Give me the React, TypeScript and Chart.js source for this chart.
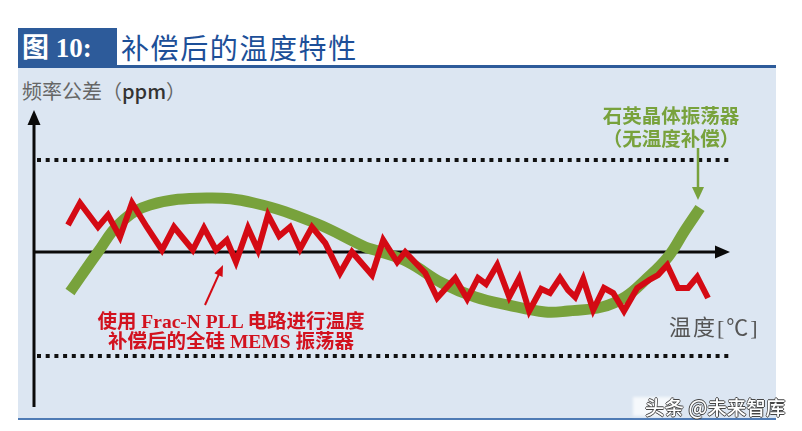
import React, { useEffect, useRef } from "react";
import { Chart, registerables } from "chart.js";

Chart.register(...registerables);

// ---- data (temperature in °C, frequency deviation in ppm) ----
const redTemp = [
  -40.5, -37.5, -33, -30.5, -27.5, -24.5, -20.8, -17, -14, -9.3, -6.5, -3.5, -0.8, 1.5, 4.5, 7, 9.5,
  12.3, 15, 17.5, 20.5, 23.8, 27.5, 30.5, 35.5, 38.3, 41.8, 43.8, 48.8, 51.8, 56.3, 59.3, 62, 64,
  66.8, 69.8, 72.3, 74.8, 77.8, 80, 82.5, 84.5, 86.3, 88.3, 90.8, 93.5, 95.8, 98.5, 101.8, 104.8,
  107, 109.3, 112, 114.5, 116.8, 119.5,
];
const redPpm = [
  13.5, 24.5, 12.5, 18.5, 7.5, 24.5, 12.5, 1, 12.5, 1, 12, 1, 6, -5, 12, 1, 18.5, 8, 12.5, 1.5,
  12.5, 4.5, -10.5, 0, -11.5, 6, -5, 0, -10.5, -23, -13, -23.5, -13, -16, -6.5, -22.5, -13, -29.5,
  -18.5, -20.5, -13, -19, -22.5, -13.5, -29, -18, -20.5, -29.5, -18, -14, -11.5, -6.5, -18, -18,
  -12.5, -23,
];
const greenTemp = [
  -40, -33, -27.5, -20, -5.8, 6, 21.3, 33.8, 37, 44.5, 53, 61.3, 69.5, 78.8, 84.5, 93, 98.8,
  103.8, 109.5, 113.8, 117.5,
];
const greenPpm = [
  -20, 0, 14.5, 23.5, 27, 24.5, 14.5, 2.5, 0.5, -5, -15.5, -22.5, -26.5, -30, -29.5, -27.5,
  -22.5, -14, -2.5, 11, 22,
];
const limitPpm = [46, -52];
const crystalArrow = { temp: [117, 117], ppm: [52, 26] };
const memsArrow = { temp: [-6.25, -1.75], ppm: [-26.5, -6.5] };

const GREEN = "#78a23c";
const RED = "#d40a14";

function arrowHead(ctx: CanvasRenderingContext2D, x0: number, y0: number, x1: number, y1: number, len: number, half: number) {
  const a = Math.atan2(y1 - y0, x1 - x0);
  ctx.beginPath();
  ctx.moveTo(x1, y1);
  ctx.lineTo(x1 - len * Math.cos(a) + half * Math.sin(a), y1 - len * Math.sin(a) - half * Math.cos(a));
  ctx.lineTo(x1 - len * Math.cos(a) - half * Math.sin(a), y1 - len * Math.sin(a) + half * Math.cos(a));
  ctx.closePath();
  ctx.fill();
}

const axesPlugin = {
  id: "axesPlugin",
  beforeDatasetsDraw(chart: any) {
    const { ctx, chartArea, scales } = chart;
    const y = scales.y;
    ctx.save();
    // dotted limit lines
    ctx.strokeStyle = "#111";
    ctx.lineWidth = 4;
    ctx.setLineDash([4, 4.7]);
    ctx.lineCap = "butt";
    limitPpm.forEach((v) => {
      const py = y.getPixelForValue(v);
      ctx.beginPath();
      ctx.moveTo(chartArea.left + 3, py);
      ctx.lineTo(chartArea.right + 3, py);
      ctx.stroke();
    });
    ctx.setLineDash([]);
    // x axis
    const y0 = y.getPixelForValue(0);
    ctx.fillStyle = "#0a0a0a";
    ctx.strokeStyle = "#0a0a0a";
    ctx.lineWidth = 3;
    ctx.beginPath();
    ctx.moveTo(chartArea.left, y0);
    ctx.lineTo(chartArea.right - 10, y0);
    ctx.stroke();
    arrowHead(ctx, chartArea.left, y0, chartArea.right, y0, 15, 6.5);
    // y axis
    ctx.beginPath();
    ctx.moveTo(chartArea.left, chartArea.bottom);
    ctx.lineTo(chartArea.left, chartArea.top + 10);
    ctx.stroke();
    arrowHead(ctx, chartArea.left, chartArea.bottom, chartArea.left, chartArea.top, 15, 6.5);
    ctx.restore();
  },
  afterDatasetsDraw(chart: any) {
    const { ctx, scales } = chart;
    const x = scales.x;
    const y = scales.y;
    ctx.save();
    // crystal arrow
    let ax0 = x.getPixelForValue(crystalArrow.temp[0]);
    let ay0 = y.getPixelForValue(crystalArrow.ppm[0]);
    let ax1 = x.getPixelForValue(crystalArrow.temp[1]);
    let ay1 = y.getPixelForValue(crystalArrow.ppm[1]);
    ctx.strokeStyle = GREEN;
    ctx.fillStyle = GREEN;
    ctx.lineWidth = 2.5;
    ctx.beginPath();
    ctx.moveTo(ax0, ay0);
    ctx.lineTo(ax1, ay1 - 8);
    ctx.stroke();
    arrowHead(ctx, ax0, ay0, ax1, ay1, 13, 6);
    // MEMS arrow
    ax0 = x.getPixelForValue(memsArrow.temp[0]);
    ay0 = y.getPixelForValue(memsArrow.ppm[0]);
    ax1 = x.getPixelForValue(memsArrow.temp[1]);
    ay1 = y.getPixelForValue(memsArrow.ppm[1]);
    ctx.strokeStyle = RED;
    ctx.fillStyle = RED;
    ctx.lineWidth = 2;
    ctx.beginPath();
    ctx.moveTo(ax0, ay0);
    const a = Math.atan2(ay1 - ay0, ax1 - ax0);
    ctx.lineTo(ax1 - 8 * Math.cos(a), ay1 - 8 * Math.sin(a));
    ctx.stroke();
    arrowHead(ctx, ax0, ay0, ax1, ay1, 11, 4.5);
    ctx.restore();
  },
};

export default function App() {
  const ref = useRef<HTMLCanvasElement>(null);
  useEffect(() => {
    if (!ref.current) return;
    const chart = new Chart(ref.current, {
      type: "line",
      data: {
        datasets: [
          {
            label: "使用 Frac-N PLL 电路进行温度补偿后的全硅 MEMS 振荡器",
            data: redTemp.map((t, i) => ({ x: t, y: redPpm[i] })),
            borderColor: RED,
            borderWidth: 6,
            borderJoinStyle: "miter",
            pointRadius: 0,
            tension: 0,
            clip: false,
            order: 0,
          },
          {
            label: "石英晶体振荡器（无温度补偿）",
            data: greenTemp.map((t, i) => ({ x: t, y: greenPpm[i] })),
            borderColor: GREEN,
            borderWidth: 11,
            borderCapStyle: "butt",
            pointRadius: 0,
            tension: 0.4,
            clip: false,
            order: 1,
          },
        ],
      },
      options: {
        animation: false,
        responsive: false,
        devicePixelRatio: 1,
        layout: { padding: { left: 34, right: 72, top: 110, bottom: 24 } },
        scales: {
          x: { type: "linear", min: -49, max: 125, display: false },
          y: { type: "linear", min: -77.5, max: 71, display: false },
        },
        plugins: { legend: { display: false }, tooltip: { enabled: false } },
      },
      plugins: [axesPlugin],
    } as any);
    return () => chart.destroy();
  }, []);

  const abs = (s: React.CSSProperties): React.CSSProperties => ({ position: "absolute", margin: 0, whiteSpace: "nowrap", ...s });
  const cjk = '"Noto Sans CJK SC", sans-serif';
  return (
    <div style={{ position: "fixed", left: 0, top: 0, width: 802, height: 431, background: "#fff", overflow: "hidden" }}>
      <div style={abs({ left: 18, top: 68, width: 758, height: 350, background: "#dce6f2" })} />
      <div style={abs({ left: 18, top: 418, width: 758, height: 2, background: "#4f7bb5" })} />
      <div style={abs({ left: 117, top: 65, width: 659, height: 3, background: "#2d5b9a" })} />
      <div
        style={abs({
          left: 18, top: 28, width: 99, height: 40, background: "#2d5b9a", color: "#fff",
          fontFamily: '"Liberation Serif", "Noto Sans CJK SC", serif', fontWeight: 700, fontSize: 27,
          lineHeight: "40px", paddingLeft: 4, boxSizing: "border-box",
        })}
      >
        图 10:
      </div>
      <div style={abs({ left: 121, top: 28, height: 38, lineHeight: "38px", fontFamily: cjk, fontSize: 28, letterSpacing: 1.6, color: "#1d4f98" })}>
        补偿后的温度特性
      </div>
      <div style={abs({ left: 22, top: 79, lineHeight: "24px", fontFamily: cjk, fontSize: 20, color: "#666" })}>
        频率公差（<span style={{ color: "#333", fontWeight: 500 }}>ppm</span>）
      </div>
      <canvas ref={ref} width={802} height={431} style={{ position: "absolute", left: 0, top: 0, width: 802, height: 431 }} />
      <div style={abs({ left: 571, width: 200, top: 103, textAlign: "center", lineHeight: "23px", fontFamily: cjk, fontWeight: 700, fontSize: 19.5, color: GREEN })}>
        石英晶体振荡器
        <br />
        （无温度补偿）
      </div>
      <div style={abs({ left: 81, width: 300, top: 312, textAlign: "center", lineHeight: "20px", fontFamily: '"Liberation Serif", "Noto Sans CJK SC", serif', fontWeight: 700, fontSize: 19.5, color: "#d2121f" })}>
        使用 Frac-N PLL 电路进行温度
        <br />
        补偿后的全硅 MEMS 振荡器
      </div>
      <div style={abs({ left: 669, top: 315, lineHeight: "26px", fontFamily: '"Liberation Serif", "Noto Sans CJK SC", serif', fontSize: 22, letterSpacing: 2, color: "#555" })}>
        温度[℃]
      </div>
      <div style={abs({ left: 633, top: 397, width: 40, height: 19, background: "rgba(255,255,255,0.75)", filter: "blur(1.5px)" })} />
      <div
        style={abs({
          left: 645, top: 396, lineHeight: "22px", fontFamily: cjk, fontSize: 19.5, fontWeight: 500, color: "#fff",
          textShadow: "0.8px 0 0 #444, -0.8px 0 0 #444, 0 0.8px 0 #444, 0 -0.8px 0 #444",
        })}
      >
        头条 @未来智库
      </div>
    </div>
  );
}
